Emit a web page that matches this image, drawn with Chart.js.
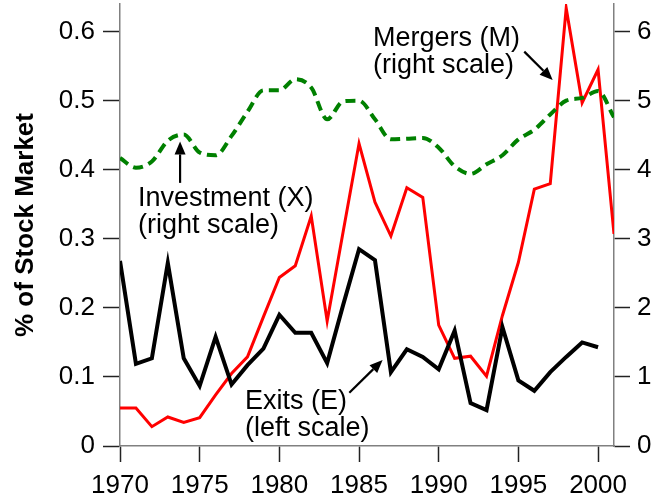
<!DOCTYPE html>
<html>
<head>
<meta charset="utf-8">
<script src="https://cdn.jsdelivr.net/npm/chart.js@4.4.1/dist/chart.umd.min.js"></script>
<style>
  html, body { margin: 0; padding: 0; background: #fff; }
  #wrap { width: 670px; height: 501px; position: relative; }
</style>
</head>
<body>
<div id="wrap"><canvas id="c" width="670" height="501"></canvas></div>
<script>
// ---- data ----
const years = [1970,1971,1972,1973,1974,1975,1976,1977,1978,1979,1980,1981,1982,1983,1984,1985,
               1986,1987,1988,1989,1990,1991,1992,1993,1994,1995,1996,1997,1998,1999,2000,2001];
// Exits (E), left scale, % of stock market (1970-2000)
const exits = [0.268,0.119,0.127,0.265,0.127,0.087,0.158,0.089,0.117,0.141,0.190,0.164,0.164,0.120,0.204,0.285,
               0.269,0.107,0.140,0.129,0.111,0.167,0.062,0.052,0.172,0.095,0.080,0.107,0.129,0.150,0.143];
// Mergers (M), right scale
const mergers = [0.55,0.55,0.28,0.42,0.34,0.41,0.74,1.05,1.29,1.87,2.44,2.61,3.33,1.81,3.10,4.38,
                 3.53,3.04,3.74,3.60,1.75,1.27,1.30,1.01,1.89,2.66,3.72,3.80,6.34,4.97,5.45,3.07];
// Investment (X), right scale
const investment = [4.17,4.03,4.12,4.42,4.51,4.25,4.21,4.49,4.84,5.15,5.15,5.31,5.19,4.73,4.99,5.00,
                    4.73,4.44,4.45,4.46,4.32,4.05,3.94,4.08,4.21,4.44,4.58,4.80,5.00,5.04,5.14,4.76];
const xTicks = [1970,1975,1980,1985,1990,1995,2000];
const leftTicks = [0,0.1,0.2,0.3,0.4,0.5,0.6];
const rightTicks = [0,1,2,3,4,5,6];
const leftMax = 0.64, rightMax = 6.4;
const yTitle = '% of Stock Market';
// annotation texts, anchored in data units
const notes = [
  {lines:['Mergers (M)','(right scale)'], x:1985.88, y:5.79, axis:'y2',
   arrow:{x0:1995.37,y0:5.71,x1:1997.15,y1:5.30}},
  {lines:['Investment (X)','(right scale)'], x:1971.13, y:3.475, axis:'y2',
   arrow:{x0:1973.77,y0:3.81,x1:1973.77,y1:4.41}},
  {lines:['Exits (E)','(left scale)'], x:1977.84, y:0.053, axis:'y',
   arrow:{x0:1984.39,y0:0.0772,x1:1986.48,y1:0.1245}}
];

const FONT = "'Liberation Sans', Arial, Helvetica, sans-serif";
const pts = (arr) => arr.map((v,i)=>({x:years[i], y:v}));

const notePlugin = {
  id:'notes',
  afterDatasetsDraw(chart){
    const ctx = chart.ctx, xs = chart.scales.x;
    ctx.save();
    ctx.font = '27px ' + FONT;
    ctx.fillStyle = '#000';
    ctx.textAlign = 'left';
    ctx.textBaseline = 'alphabetic';
    notes.forEach(n=>{
      const ys = chart.scales[n.axis];
      const px = xs.getPixelForValue(n.x), py = ys.getPixelForValue(n.y);
      n.lines.forEach((t,i)=>ctx.fillText(t, px, py + i*27));
      const a = n.arrow;
      const x0 = xs.getPixelForValue(a.x0), y0 = ys.getPixelForValue(a.y0);
      const x1 = xs.getPixelForValue(a.x1), y1 = ys.getPixelForValue(a.y1);
      const ang = Math.atan2(y1-y0, x1-x0), L = 13, W = 5.5;
      const bx = x1 - L*Math.cos(ang), by = y1 - L*Math.sin(ang);
      ctx.strokeStyle = '#000'; ctx.lineWidth = 2.2;
      ctx.beginPath(); ctx.moveTo(x0,y0); ctx.lineTo(bx,by); ctx.stroke();
      ctx.beginPath();
      ctx.moveTo(x1,y1);
      ctx.lineTo(bx + W*Math.sin(ang), by - W*Math.cos(ang));
      ctx.lineTo(bx - W*Math.sin(ang), by + W*Math.cos(ang));
      ctx.closePath(); ctx.fill();
    });
    ctx.restore();
  }
};

const tickFont = {family: FONT, size: 26};
new Chart(document.getElementById('c'), {
  type:'line',
  data:{
    datasets:[
      {label:'Investment (X)', data: pts(investment), yAxisID:'y2', borderColor:'#008000',
       borderWidth:4, borderDash:[10,6], pointRadius:0, cubicInterpolationMode:'monotone', fill:false},
      {label:'Exits (E)', data: pts(exits), yAxisID:'y', borderColor:'#000000',
       borderWidth:4, pointRadius:0, tension:0, fill:false},
      {label:'Mergers (M)', data: pts(mergers), yAxisID:'y2', borderColor:'#ff0000',
       borderWidth:3, pointRadius:0, tension:0, fill:false}
    ]
  },
  options:{
    responsive:false, animation:false, devicePixelRatio:1,
    layout:{padding:{top:4, left:0, right:0, bottom:0}},
    plugins:{legend:{display:false}, tooltip:{enabled:false}},
    scales:{
      x:{type:'linear', min:1970, max:2001,
         afterBuildTicks: s => { s.ticks = xTicks.map(v=>({value:v})); },
         afterFit: s => { s.height = 55; s.paddingLeft = 0; s.paddingRight = 0; },
         ticks:{font:tickFont, color:'#000', padding:8, maxRotation:0, autoSkip:false,
                callback: v => String(v)},
         grid:{drawOnChartArea:false, drawTicks:true, tickLength:16, tickColor:'#222', tickWidth:1.5},
         border:{display:true, color:'#808080', width:1.5}},
      y:{type:'linear', position:'left', min:0, max:leftMax,
         afterBuildTicks: s => { s.ticks = leftTicks.map(v=>({value:v})); },
         afterFit: s => { s.width = 120; s.paddingTop = 0; s.paddingBottom = 0; },
         ticks:{font:tickFont, color:'#000', padding:8, callback: v => (v===0?'0':v.toFixed(1))},
         grid:{drawOnChartArea:false, drawTicks:true, tickLength:17, tickColor:'#222', tickWidth:1.5},
         border:{display:true, color:'#808080', width:1.5},
         title:{display:true, text:yTitle, color:'#000', font:{family:FONT, size:26, weight:'bold'},
                padding:{top:10, bottom:0}}},
      y2:{type:'linear', position:'right', min:0, max:rightMax,
         afterBuildTicks: s => { s.ticks = rightTicks.map(v=>({value:v})); },
         afterFit: s => { s.width = 56; s.paddingTop = 0; s.paddingBottom = 0; },
         ticks:{font:tickFont, color:'#000', padding:7, callback: v => String(v)},
         grid:{drawOnChartArea:false, drawTicks:true, tickLength:16, tickColor:'#222', tickWidth:1.5},
         border:{display:true, color:'#808080', width:1.5}}
    }
  },
  plugins:[notePlugin]
});
</script>
</body>
</html>
